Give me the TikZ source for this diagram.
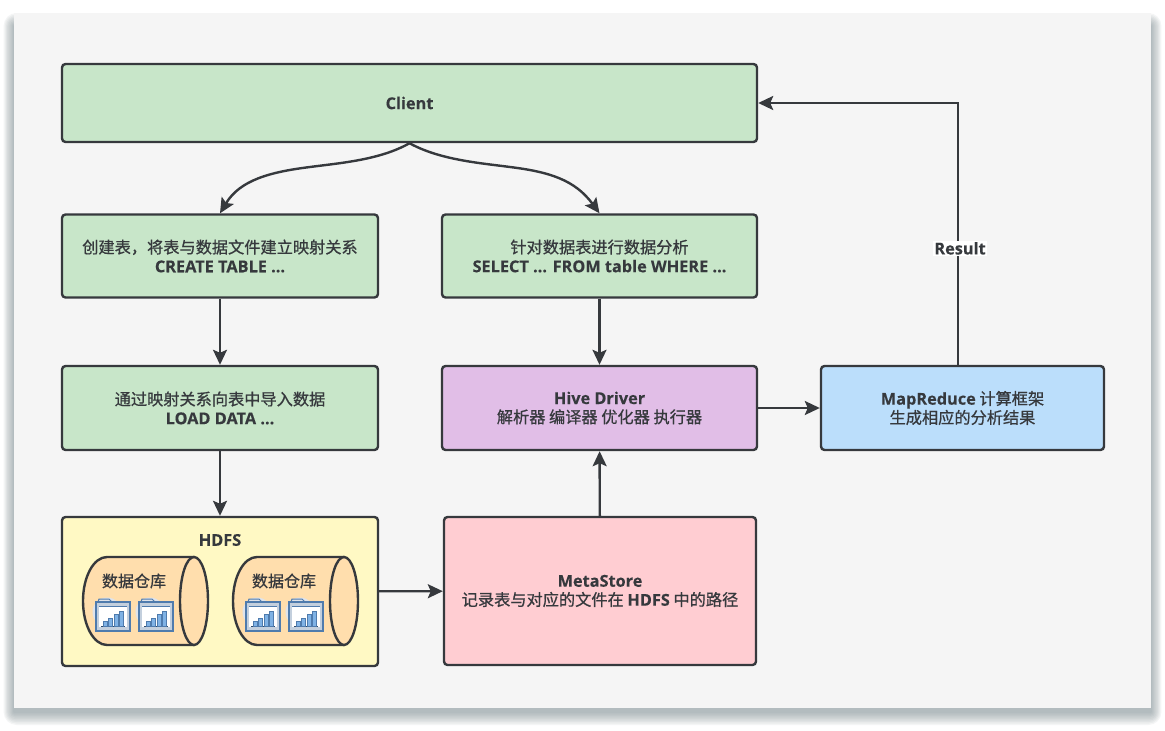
\documentclass[tikz,border=0pt]{standalone}
\usepackage{fontspec}
\setmainfont{Noto Sans CJK SC}[FakeBold=0.8]
\newfontfamily\latfont{Open Sans}[FakeBold=0.2]
\newcommand{\lat}[1]{{\latfont\bfseries\fontsize{16.3}{19}\selectfont #1}}
\usetikzlibrary{arrows.meta}

\definecolor{inkgray}{HTML}{36393D}
\definecolor{folderblue}{HTML}{4F7BAD}
\definecolor{barblue}{HTML}{7FB2E5}
\definecolor{framegray}{HTML}{C3CFDD}
\definecolor{haloblue}{HTML}{DFE3EA}
\definecolor{drumfill}{HTML}{FFDEAD}
\definecolor{sheetgreen}{HTML}{C8E6C9}
\definecolor{sheetpurple}{HTML}{E1BEE7}
\definecolor{sheetblue}{HTML}{BBDEFB}
\definecolor{sheetyellow}{HTML}{FFF9C4}
\definecolor{sheetpink}{HTML}{FFCDD2}
\definecolor{shadowgray}{HTML}{6F7F86}

\tikzset{
    folder/.pic={
        \fill[haloblue] (11,11) circle (14.5);
        \draw[folderblue, line width=1pt, fill=haloblue] (2,1) -- (3,-2) -- (13,-2) -- (16,1);
        \draw[folderblue, line width=1.2pt, fill=framegray] (0,1) rectangle (34,30);
        \fill[white] (3,5) rectangle (31,26);
        \draw[folderblue, line width=1pt] (3,5) -- (31,5);
        \draw[folderblue!60!black, line width=1pt] (5,25) -- (29,25);
        \foreach \xpos/\barh in {7/5, 12.5/8, 18/12, 23.5/15}
            \draw[folderblue, line width=0.7pt, fill=barblue] (\xpos,25) rectangle (\xpos+4,25-\barh);
    },
    drum/.pic={
        % body first, right end cap on top
        \draw[inkgray, line width=2.4pt, fill=drumfill] (111,0) -- (24,0) .. controls (10.7,0) and (0,19.7) .. (0,44)
            .. controls (0,68.3) and (10.7,88) .. (24,88) -- (111,88);
        \draw[inkgray, line width=2.4pt, fill=drumfill] (111,44) ellipse (14 and 44);
        \pic at (13,44) {folder};
        \pic at (56,44) {folder};
    }
}

\begin{document}
\begin{tikzpicture}[
    x=1pt, y=-1pt,
    box/.style={rectangle, draw=inkgray, line width=2.4pt, rounded corners=3.5pt, text=inkgray,
        align=center, font=\fontsize{16.2}{19}\selectfont, minimum width=316pt, minimum height=83pt},
    arrow/.style={-{Stealth[length=15pt, width=14pt, inset=3pt]}, draw=inkgray, line width=2.4pt}
]
    \useasboundingbox (0,0) rectangle (1165,731);

    % Sheet with its soft shadow
    \fill[white] (0,0) rectangle (1165,731);
    \foreach \grow in {13,11.5,...,0}
        \fill[shadowgray, opacity=0.075, rounded corners=\grow pt]
            (14-0.8*\grow,13-\grow+13) rectangle (1151+0.8*\grow,708+\grow+4);
    \fill[black!4] (14,13) rectangle (1151,708);

    % Boxes
    \node[box, fill=sheetgreen, minimum width=695pt, minimum height=78pt] (client) at (409.5,103) {\lat{Client}};
    \node[box, fill=sheetgreen] (create) at (220,256) {创建表，将表与数据文件建立映射关系\\\lat{CREATE TABLE ...}};
    \node[box, fill=sheetgreen, minimum width=315pt] (select) at (599.5,256) {针对数据表进行数据分析\\\lat{SELECT ... FROM table WHERE ...}};
    \node[box, fill=sheetgreen, minimum height=84pt] (load) at (220,408) {通过映射关系向表中导入数据\\\lat{LOAD DATA ...}};
    \node[box, fill=sheetpurple, minimum width=315pt, minimum height=84pt] (driver) at (599.5,408) {\lat{Hive Driver}\\解析器 编译器 优化器 执行器};
    \node[box, fill=sheetblue, minimum width=283pt, minimum height=84pt] (mapred) at (962.5,408) {\lat{MapReduce} 计算框架\\生成相应的分析结果};
    \node[box, fill=sheetyellow, minimum height=149pt] (hdfs) at (220,591.5) {};
    \node[box, fill=sheetpink, minimum width=312pt, minimum height=148pt] (meta) at (600,591) {\lat{MetaStore}\\记录表与对应的文件在 \lat{HDFS} 中的路径};

    % HDFS contents
    \node[text=inkgray] (hdfstitle) at (220,540) {\lat{HDFS}};
    \pic at (83,557) {drum};
    \pic at (233,557) {drum};
    \node[text=inkgray, font=\fontsize{16}{20}\selectfont] (store1) at (134,581) {数据仓库};
    \node[text=inkgray, font=\fontsize{16}{20}\selectfont] (store2) at (284,581) {数据仓库};

    % Arrows
    \draw[arrow] (client.south) .. controls (380,160) and (340,163) .. (310,167) .. controls (270,172) and (240,180) .. (create.north);
    \draw[arrow] (client.south) .. controls (440,160) and (480,163) .. (510,167) .. controls (550,172) and (575,180) .. (select.north);
    \draw[arrow] (create) -- (load);
    \draw[arrow] (load) -- (hdfs);
    \draw[arrow] (select) -- (driver);
    \draw[arrow] (meta) -- (driver);
    \draw[arrow] (hdfs) -- (meta);
    \draw[arrow] (driver) -- (mapred);
    \draw[arrow] ([xshift=-4.5pt]mapred.north) |- (client.east)
        node[pos=0.2225, fill=white, inner sep=1pt, text=inkgray, xshift=2pt] (result) {\lat{Result}};
\end{tikzpicture}
\end{document}
